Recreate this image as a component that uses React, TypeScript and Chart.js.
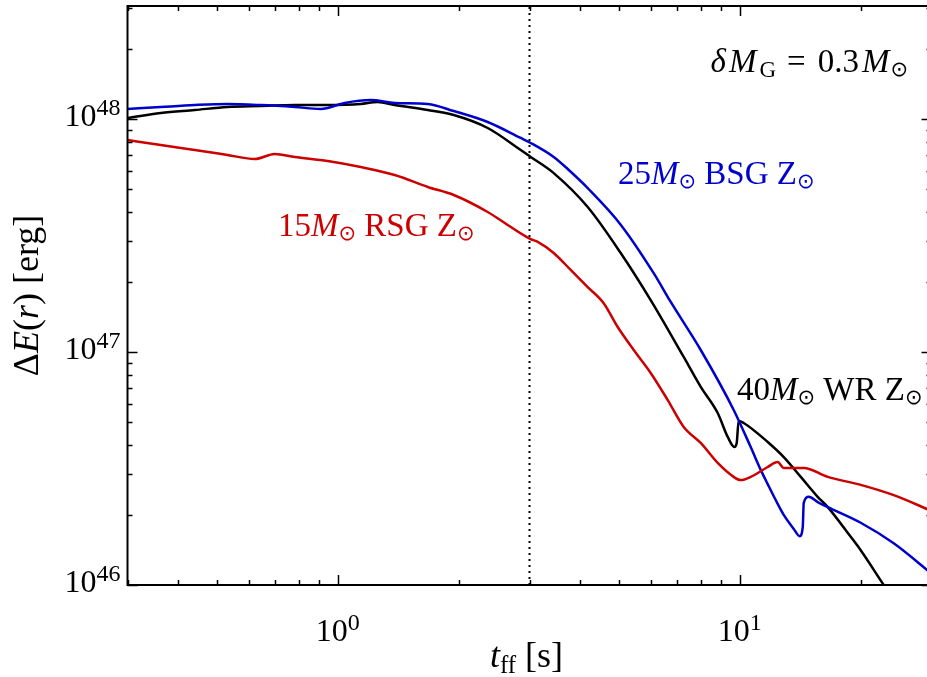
import { useEffect, useRef } from 'react';
import { Chart, registerables } from 'chart.js';

Chart.register(...registerables);

// ---- axis ranges ----
const X_MIN = 0.3;
const X_MAX = 30;
const Y_MIN = 1e46;
const Y_MAX = 3.055e48;
const DOTTED_T = 3;

// ---- 15 Msun RSG ----
const rsgT = [0.30, 0.363, 0.441, 0.532, 0.622, 0.697, 0.782, 0.944, 1.141, 1.386, 1.675, 1.944, 2.361, 2.648, 3.021, 3.145, 3.446, 3.798, 4.187, 4.588, 4.972, 5.450, 6.006, 6.622, 7.256, 8.000, 8.816, 9.662, 10.06, 10.65, 11.74, 12.43, 12.87, 14.43, 16.56, 20.00, 24.16, 30.0];
const rsgE = [8.13e47, 7.73e47, 7.36e47, 7.01e47, 6.73e47, 7.08e47, 6.87e47, 6.60e47, 6.22e47, 5.75e47, 5.11e47, 4.72e47, 3.99e47, 3.51e47, 3.05e47, 2.97e47, 2.66e47, 2.25e47, 1.90e47, 1.62e47, 1.28e47, 1.02e47, 8.13e46, 6.22e46, 4.77e46, 4.07e46, 3.34e46, 2.91e46, 2.82e46, 2.91e46, 3.21e46, 3.37e46, 3.18e46, 3.18e46, 2.91e46, 2.69e46, 2.43e46, 2.08e46];

// ---- 25 Msun BSG ----
const bsgT = [0.30, 0.363, 0.441, 0.532, 0.643, 0.782, 0.907, 1.041, 1.208, 1.386, 1.675, 1.944, 2.361, 2.853, 3.021, 3.446, 3.734, 4.187, 5.058, 6.110, 6.737, 8.000, 9.662, 10.65, 11.28, 11.74, 12.43, 12.87, 13.63, 14.10, 14.35, 14.43, 14.85, 15.63, 16.56, 20.00, 24.16, 30.0];
const bsgE = [1.104e48, 1.126e48, 1.148e48, 1.160e48, 1.148e48, 1.126e48, 1.104e48, 1.172e48, 1.206e48, 1.172e48, 1.160e48, 1.082e48, 9.71e47, 8.29e47, 7.89e47, 6.87e47, 6.10e47, 5.05e47, 3.52e47, 2.18e47, 1.64e47, 1.02e47, 5.64e46, 3.91e46, 3.12e46, 2.71e46, 2.23e46, 2.00e46, 1.74e46, 1.62e46, 1.77e46, 2.25e46, 2.39e46, 2.27e46, 2.16e46, 1.85e46, 1.51e46, 1.12e46];

// ---- 40 Msun WR ----
const wrT = [0.30, 0.363, 0.441, 0.532, 0.643, 0.782, 0.944, 1.141, 1.257, 1.386, 1.675, 1.944, 2.361, 2.853, 3.021, 3.446, 4.187, 5.058, 6.006, 7.256, 8.000, 8.816, 9.337, 9.70, 9.83, 9.94, 10.23, 11.74, 12.87, 14.19, 15.63, 16.56, 18.89, 20.00, 22.82, 25.15];
const wrE = [1.010e48, 1.061e48, 1.093e48, 1.126e48, 1.137e48, 1.148e48, 1.148e48, 1.160e48, 1.183e48, 1.148e48, 1.093e48, 1.040e48, 9.15e47, 7.36e47, 6.87e47, 5.86e47, 4.19e47, 2.66e47, 1.67e47, 9.52e46, 7.08e46, 5.47e46, 4.32e46, 3.91e46, 4.07e46, 5.06e46, 4.96e46, 4.11e46, 3.54e46, 2.91e46, 2.39e46, 2.16e46, 1.61e46, 1.41e46, 1.0e46, 7.8e45];

// ---- ticks ----
const xMajorTicks = [1, 10];
const xMajorLabels = [['10', '0'], ['10', '1']];
const xMinorTicks = [0.3, 0.4, 0.5, 0.6, 0.7, 0.8, 0.9, 2, 3, 4, 5, 6, 7, 8, 9, 20, 30];
const yMajorTicks = [1e46, 1e47, 1e48];
const yMajorLabels = [['10', '46'], ['10', '47'], ['10', '48']];
const yMinorTicks = [2e46, 3e46, 4e46, 5e46, 6e46, 7e46, 8e46, 9e46, 2e47, 3e47, 4e47, 5e47, 6e47, 7e47, 8e47, 9e47, 2e48, 3e48];

const RED = '#cc0000';
const BLUE = '#0000cc';
const BLACK = '#000000';

const SERIF = "'Liberation Serif', 'DejaVu Serif', serif";
const SUNFONT = "'DejaVu Sans', 'DejaVu Serif', sans-serif";

type Run = { t: string; it?: boolean; size?: number; dy?: number; fam?: string; gap?: number };

function fontOf(r: Run, base: number) {
  return `${r.it ? 'italic ' : ''}${r.size ?? base}px ${r.fam ?? SERIF}`;
}

function runsWidth(ctx: CanvasRenderingContext2D, runs: Run[], base: number) {
  let w = 0;
  for (const r of runs) {
    ctx.font = fontOf(r, base);
    w += ctx.measureText(r.t).width + (r.gap ?? 0);
  }
  return w;
}

function drawRuns(ctx: CanvasRenderingContext2D, runs: Run[], x: number, y: number, base: number, align: 'left' | 'center' | 'right', color: string) {
  const w = runsWidth(ctx, runs, base);
  let cx = align === 'left' ? x : align === 'right' ? x - w : x - w / 2;
  ctx.fillStyle = color;
  ctx.textAlign = 'left';
  ctx.textBaseline = 'alphabetic';
  for (const r of runs) {
    ctx.font = fontOf(r, base);
    ctx.fillText(r.t, cx, y + (r.dy ?? 0));
    cx += ctx.measureText(r.t).width + (r.gap ?? 0);
  }
}

const ANN = 33;
const sun = (gap = 0): Run => ({ t: '\u2299', size: 21, dy: 4, fam: SUNFONT, gap });

const rsgLabel: Run[] = [{ t: '15' }, { t: 'M', it: true }, sun(), { t: ' RSG Z' }, sun()];
const bsgLabel: Run[] = [{ t: '25' }, { t: 'M', it: true }, sun(), { t: ' BSG Z' }, sun()];
const wrLabel: Run[] = [{ t: '40' }, { t: 'M', it: true }, sun(), { t: ' WR Z' }, sun()];
const deltaLabel: Run[] = [
  { t: '\u03b4', it: true, gap: 3 },
  { t: 'M', it: true, gap: 3 },
  { t: 'G', size: 23, dy: 5, gap: 11 },
  { t: '=', gap: 12 },
  { t: '0.3', gap: 3 },
  { t: 'M', it: true, gap: 1 },
  sun(),
];
const xTitle: Run[] = [{ t: 't', it: true }, { t: 'ff', size: 25, dy: 6 }, { t: ' [s]' }];
const yTitle: Run[] = [{ t: '\u0394' }, { t: 'E', it: true }, { t: '(' }, { t: 'r', it: true }, { t: ') [erg]' }];

const TICK = 32;
const SUP = 24;

function drawPow(ctx: CanvasRenderingContext2D, b: string, e: string, x: number, y: number, align: 'center' | 'right') {
  drawRuns(ctx, [{ t: b }, { t: e, size: SUP, dy: -11 }], x, y, TICK, align, '#000');
}

const framePlugin = {
  id: 'framePlugin',
  afterDatasetsDraw(chart: any) {
    const ctx: CanvasRenderingContext2D = chart.ctx;
    const { left, right, top, bottom } = chart.chartArea;
    const xs = chart.scales.x;
    const ys = chart.scales.y;
    ctx.save();
    ctx.strokeStyle = '#000';
    // ticks
    ctx.lineWidth = 1.5;
    const tickX = (v: number, len: number) => {
      const px = Math.round(xs.getPixelForValue(v)) + 0.5;
      ctx.beginPath();
      ctx.moveTo(px, bottom);
      ctx.lineTo(px, bottom - len);
      ctx.moveTo(px, top);
      ctx.lineTo(px, top + len);
      ctx.stroke();
    };
    const tickY = (v: number, len: number) => {
      const py = Math.round(ys.getPixelForValue(v)) + 0.5;
      ctx.beginPath();
      ctx.moveTo(left, py);
      ctx.lineTo(left + len, py);
      ctx.moveTo(right, py);
      ctx.lineTo(right - len, py);
      ctx.stroke();
    };
    xMinorTicks.forEach((v) => tickX(v, 5));
    xMajorTicks.forEach((v) => tickX(v, 10));
    yMinorTicks.forEach((v) => tickY(v, 5));
    yMajorTicks.forEach((v) => tickY(v, 10));
    // frame
    ctx.lineWidth = 2;
    ctx.strokeRect(left, top, right - left, bottom - top);
    // tick labels
    xMajorTicks.forEach((v, i) => {
      drawPow(ctx, xMajorLabels[i][0], xMajorLabels[i][1], xs.getPixelForValue(v), bottom + 56, 'center');
    });
    yMajorTicks.forEach((v, i) => {
      drawPow(ctx, yMajorLabels[i][0], yMajorLabels[i][1], left - 7, ys.getPixelForValue(v) + 7, 'right');
    });
    // axis titles
    drawRuns(ctx, xTitle, (left + xs.getPixelForValue(30)) / 2 - 3, 667, 36, 'center', '#000');
    ctx.save();
    ctx.translate(38, (top + bottom) / 2);
    ctx.rotate(-Math.PI / 2);
    drawRuns(ctx, yTitle, 0, 0, 36, 'center', '#000');
    ctx.restore();
    // annotations
    drawRuns(ctx, deltaLabel, 908, 72, ANN, 'right', '#000');
    drawRuns(ctx, bsgLabel, 618, 184, ANN, 'left', BLUE);
    drawRuns(ctx, rsgLabel, 278, 236, ANN, 'left', RED);
    drawRuns(ctx, wrLabel, 737, 400, ANN, 'left', BLACK);
    ctx.restore();
  },
};

function pts(t: number[], e: number[]) {
  return t.map((x, i) => ({ x, y: e[i] }));
}

export default function App() {
  const ref = useRef<HTMLCanvasElement | null>(null);
  useEffect(() => {
    if (!ref.current) return;
    const line = (data: any, color: string) => ({
      data,
      borderColor: color,
      borderWidth: 2.5,
      pointRadius: 0,
      fill: false,
      cubicInterpolationMode: 'monotone' as const,
    });
    const chart = new Chart(ref.current, {
      type: 'line',
      data: {
        datasets: [
          {
            data: [{ x: DOTTED_T, y: Y_MIN }, { x: DOTTED_T, y: Y_MAX }],
            borderColor: '#000',
            borderWidth: 2,
            borderDash: [2, 4],
            pointRadius: 0,
            fill: false,
          },
          line(pts(rsgT, rsgE), RED),
          line(pts(bsgT, bsgE), BLUE),
          line(pts(wrT, wrE), BLACK),
        ],
      },
      options: {
        responsive: false,
        animation: false,
        events: [],
        layout: { padding: { left: 127.5, right: 3.5, top: 6, bottom: 92 } },
        scales: {
          x: { type: 'logarithmic', min: X_MIN, max: X_MAX, display: false },
          y: { type: 'logarithmic', min: Y_MIN, max: Y_MAX, display: false },
        },
        plugins: { legend: { display: false }, tooltip: { enabled: false } },
      },
      plugins: [framePlugin],
    });
    return () => chart.destroy();
  }, []);
  return (
    <div style={{ position: 'fixed', left: 0, top: 0, width: 927, height: 677, overflow: 'hidden', background: '#fff' }}>
      <canvas ref={ref} width={935} height={677} style={{ display: 'block', width: 935, height: 677 }} />
    </div>
  );
}
